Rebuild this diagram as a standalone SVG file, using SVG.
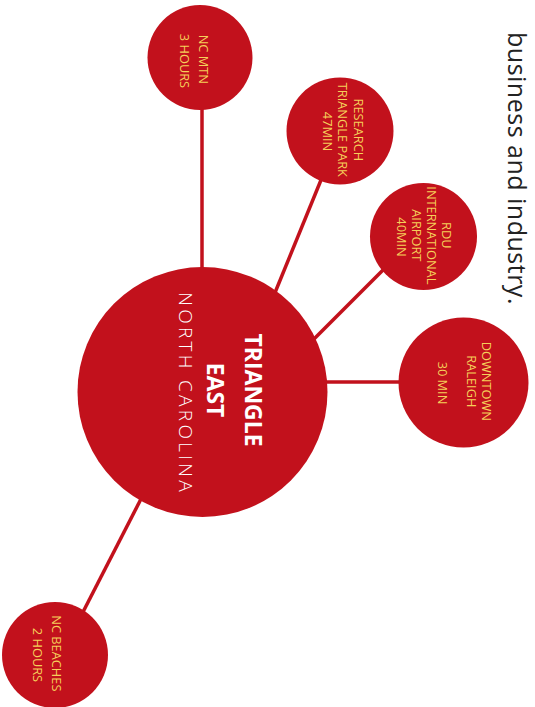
<svg xmlns="http://www.w3.org/2000/svg" width="535" height="707" viewBox="0 0 535 707">
<style>
.node{fill:#c2111c}
.lbl{font-family:"Open Sans","Liberation Sans",sans-serif;font-size:12.8px;fill:#f5cf5a;text-anchor:middle}
.big{font-family:"Open Sans","Liberation Sans",sans-serif;font-size:23px;font-weight:bold;fill:#ffffff;text-anchor:middle}
.sub{font-family:"Open Sans","Liberation Sans",sans-serif;font-size:19px;font-weight:300;fill:#ffffff;text-anchor:middle;letter-spacing:3.3px}
.edge{stroke:#c2111c;stroke-width:3.5;fill:none}
.body{font-family:"Open Sans","Liberation Sans",sans-serif;font-size:25px;fill:#222222;letter-spacing:0.5px}
</style>
<rect width="535" height="707" fill="#ffffff"/>
<text class="body" transform="translate(508,32) rotate(90)" x="0" y="0">business and industry.</text>
<g id="connectors">
<line class="edge" x1="202" y1="105" x2="202" y2="275"/>
<line class="edge" x1="321" y1="180" x2="272" y2="300"/>
<line class="edge" x1="385" y1="268" x2="305" y2="348"/>
<line class="edge" x1="320" y1="382" x2="405" y2="382"/>
<line class="edge" x1="83" y1="612" x2="142" y2="497"/>
</g>
<g id="main">
<circle class="node" cx="202.5" cy="392" r="125"/>
<text transform="translate(202.5,392) rotate(90)">
<tspan class="big" x="0" y="-42.8">TRIANGLE</tspan>
<tspan class="big" x="0" y="-4.3">EAST</tspan>
<tspan class="sub" x="1.6" y="23.3">NORTH CAROLINA</tspan>
</text>
</g>
<g id="nc-mtn">
<circle class="node" cx="200" cy="57.5" r="52.5"/>
<text class="lbl" transform="translate(200,61) rotate(90)">
<tspan x="0" y="0.6">NC MTN</tspan>
<tspan x="0" y="19.6">3 HOURS</tspan>
</text>
</g>
<g id="research">
<circle class="node" cx="340" cy="131" r="53.5"/>
<text class="lbl" transform="translate(340,131.5) rotate(90)">
<tspan x="0" y="-14.4">RESEARCH</tspan>
<tspan x="0" y="1.6">TRIANGLE PARK</tspan>
<tspan x="0" y="16.6">47MIN</tspan>
</text>
</g>
<g id="rdu">
<circle class="node" cx="423.5" cy="236.5" r="53.5"/>
<text class="lbl" transform="translate(423.5,237) rotate(90)">
<tspan x="0" y="-18.9">RDU</tspan>
<tspan x="0" y="-3.9">INTERNATIONAL</tspan>
<tspan x="0" y="11.1">AIRPORT</tspan>
<tspan x="0" y="26.1">40MIN</tspan>
</text>
</g>
<g id="downtown">
<circle class="node" cx="463.5" cy="382.5" r="65"/>
<text class="lbl" transform="translate(463.5,383) rotate(90)">
<tspan x="0" y="-18.9">DOWNTOWN</tspan>
<tspan x="0" y="-3.9">RALEIGH</tspan>
<tspan x="0" y="25.1">30 MIN</tspan>
</text>
</g>
<g id="nc-beaches">
<circle class="node" cx="55" cy="655" r="53"/>
<text class="lbl" transform="translate(55,655) rotate(90)">
<tspan x="0" y="2.6">NC BEACHES</tspan>
<tspan x="0" y="21.6">2 HOURS</tspan>
</text>
</g>
</svg>
